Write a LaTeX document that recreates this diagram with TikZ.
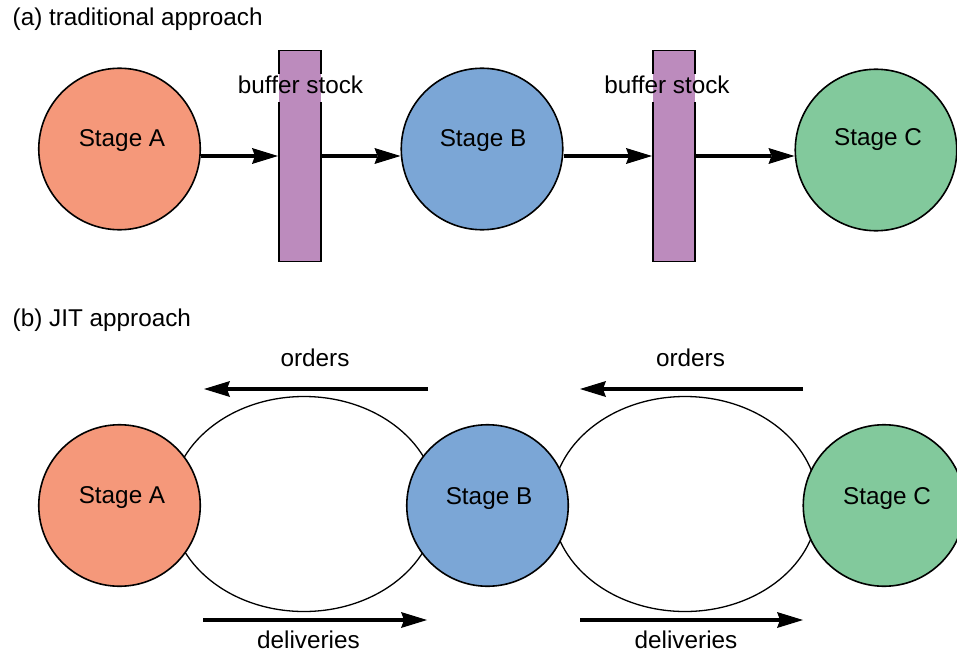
\documentclass[tikz,border=0pt]{standalone}
\usepackage{fontspec}
\setmainfont{Liberation Sans}
\usetikzlibrary{arrows.meta,shapes.geometric}
\definecolor{colA}{RGB}{245,152,122}
\definecolor{colB}{RGB}{123,166,214}
\definecolor{colC}{RGB}{130,201,156}
\definecolor{colP}{RGB}{188,139,189}
\begin{document}
\begin{tikzpicture}[x=1pt,y=-1pt,
  font=\fontsize{24.3}{28}\selectfont,
  stage/.style={circle, draw, line width=1.6pt, minimum size=161.5pt, inner sep=0pt},
  bufbox/.style={draw, line width=1.6pt, fill=colP, minimum width=42.5pt, minimum height=211pt, inner sep=0pt},
  arr/.style={line width=4pt, -{Stealth[length=26pt,width=16pt,inset=3pt,line width=0pt]}},
  txt/.style={inner sep=0pt, anchor=base},
  loopel/.style={ellipse, draw, line width=1.3pt, minimum width=266pt, minimum height=215pt, inner sep=0pt}]
\useasboundingbox (0,0) rectangle (957,655);

% (a) traditional approach
\node[txt, anchor=base west] (ta) at (12.5,26) {(a) traditional approach};
\node[stage, fill=colA] (A1) at (119.5,149) {};
\node[stage, fill=colB] (B1) at (482,149) {};
\node[stage, fill=colC] (C1) at (876,150) {};
\node[bufbox] (R1) at (300,156) {};
\node[bufbox] (R2) at (674,156) {};
\node[txt, fill=white, text height=17pt, text depth=7pt, inner ysep=2pt,
  path picture={\fill[colP] ([xshift=0.8pt]R1.west |- path picture bounding box.north) rectangle ([xshift=-0.8pt]R1.east |- path picture bounding box.south);}]
  (T1) at (300.5,93.5) {buffer stock};
\node[txt, fill=white, text height=17pt, text depth=7pt, inner ysep=2pt,
  path picture={\fill[colP] ([xshift=0.8pt]R2.west |- path picture bounding box.north) rectangle ([xshift=-0.8pt]R2.east |- path picture bounding box.south);}]
  (T2) at (667,93.5) {buffer stock};
\node[txt] (LA1) at (122,147) {Stage A};
\node[txt] (LB1) at (483,147) {Stage B};
\node[txt] (LC1) at (878,146) {Stage C};
\draw[arr] (A1.east |- R1.center) -- (R1.west);
\draw[arr] (R1.east) -- (B1.west |- R1.center);
\draw[arr] (B1.east |- R2.center) -- (R2.west);
\draw[arr] (R2.east) -- (C1.west |- R2.center);

% (b) JIT approach
\node[txt, anchor=base west] (tb) at (12.5,326.5) {(b) JIT approach};
\node[loopel] (E1) at (304,504) {};
\node[loopel] (E2) at (685,504) {};
\node[stage, fill=colA] (A2) at (119.5,505.5) {};
\node[stage, fill=colB] (B2) at (487.5,505.5) {};
\node[stage, fill=colC] (C2) at (884,505.5) {};
\node[txt] (LA2) at (122,503.5) {Stage A};
\node[txt] (LB2) at (489,504) {Stage B};
\node[txt] (LC2) at (887,504) {Stage C};

\coordinate (o1s) at (428,389);
\coordinate (o1e) at (204,389);
\coordinate (d1s) at (203,620);
\coordinate (d1e) at (427,620);
\coordinate (o2s) at (803,389);
\coordinate (o2e) at (580,389);
\coordinate (d2s) at (580,620);
\coordinate (d2e) at (803,620);
\draw[arr] (o1s) -- (o1e);
\draw[arr] (d1s) -- (d1e);
\draw[arr] (o2s) -- (o2e);
\draw[arr] (d2s) -- (d2e);
\node[txt] (O1) at (315,366.5) {orders};
\node[txt] (O2) at (690.5,366.5) {orders};
\node[txt] (D1) at (308.5,648.5) {deliveries};
\node[txt] (D2) at (686,648.5) {deliveries};
\end{tikzpicture}
\end{document}
